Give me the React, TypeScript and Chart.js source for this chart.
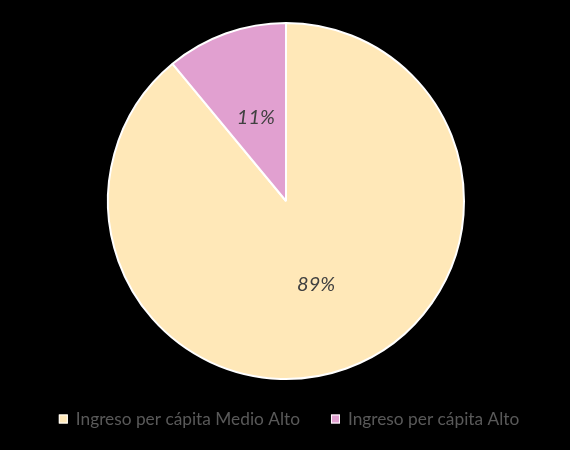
import React, { useEffect, useRef } from "react";
import { Chart, registerables } from "chart.js";

Chart.register(...registerables);

const categories = ["Ingreso per cápita Medio Alto", "Ingreso per cápita Alto"];
const values = [89, 11];
const valueLabels = ["89%", "11%"];
const colors = ["#FFE8B8", "#E1A0D0"];

const labelPlugin = {
  id: "sliceLabels",
  afterDatasetsDraw(chart: any) {
    const ctx = chart.ctx;
    const meta = chart.getDatasetMeta(0);
    ctx.save();
    ctx.font = "italic 20px Lato, 'Open Sans', sans-serif";
    ctx.fillStyle = "#404040";
    ctx.textAlign = "center";
    ctx.textBaseline = "middle";
    meta.data.forEach((arc: any, i: number) => {
      const p = arc.getProps(["x", "y", "startAngle", "endAngle", "outerRadius"], true);
      const mid = (p.startAngle + p.endAngle) / 2;
      const r = p.outerRadius * 0.5;
      ctx.fillText(valueLabels[i], p.x + Math.cos(mid) * r, p.y + Math.sin(mid) * r);
    });
    ctx.restore();
  },
};

const legendPlugin = {
  id: "customLegend",
  afterDraw(chart: any) {
    const ctx = chart.ctx;
    ctx.save();
    ctx.font = "17.3px Lato, 'Open Sans', sans-serif";
    ctx.textBaseline = "middle";
    const box = 9;
    const textGap = 8;
    const itemGap = 31;
    const widths = categories.map((c) => ctx.measureText(c).width);
    const total =
      widths.reduce((a: number, w: number) => a + box + textGap + w, 0) + itemGap * (categories.length - 1);
    let x = 289 - total / 2;
    const y = 419;
    categories.forEach((c, i) => {
      ctx.fillStyle = colors[i];
      ctx.fillRect(x, y - box / 2, box, box);
      ctx.strokeStyle = "#FFFFFF";
      ctx.lineWidth = 1;
      ctx.strokeRect(x + 0.5, y - box / 2 + 0.5, box - 1, box - 1);
      ctx.fillStyle = "#595959";
      ctx.fillText(c, x + box + textGap, y);
      x += box + textGap + widths[i] + itemGap;
    });
    ctx.restore();
  },
};

export default function App() {
  const ref = useRef<HTMLCanvasElement>(null);
  useEffect(() => {
    document.body.style.margin = "0";
    const chart = new Chart(ref.current!, {
      type: "pie",
      data: {
        labels: categories,
        datasets: [
          {
            data: values,
            backgroundColor: colors,
            borderColor: "#FFFFFF",
            borderWidth: 2,
          },
        ],
      },
      options: {
        animation: false,
        responsive: false,
        layout: { padding: { top: 22, left: 2, right: 0, bottom: 70 } },
        plugins: {
          tooltip: { enabled: false },
          legend: { display: false },
        },
      },
      plugins: [labelPlugin, legendPlugin],
    });
    return () => chart.destroy();
  }, []);
  return (
    <div style={{ width: 570, height: 450, background: "#000" }}>
      <canvas ref={ref} width={570} height={450} />
    </div>
  );
}
